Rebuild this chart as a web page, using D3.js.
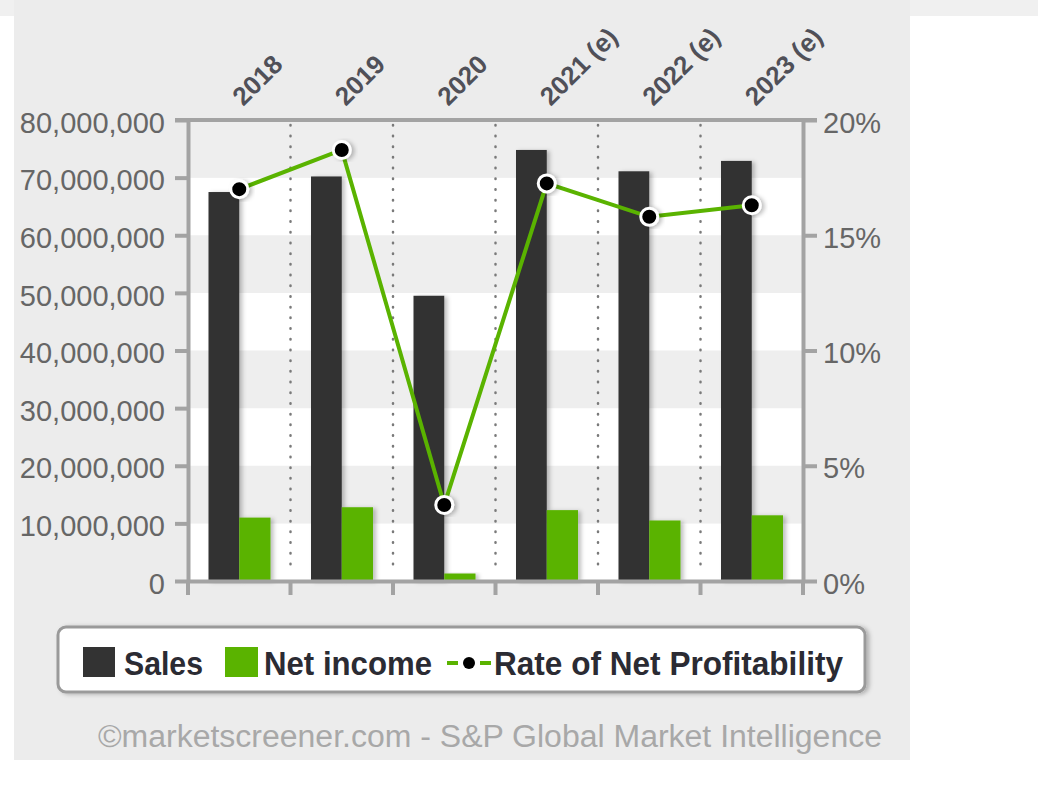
<!DOCTYPE html>
<html>
<head>
<meta charset="utf-8">
<script src="https://cdn.jsdelivr.net/npm/d3@7"></script>
<style>
  body { margin: 0; background: #fff; }
  svg { display: block; font-family: "Liberation Sans", Arial, sans-serif; }
</style>
</head>
<body>
<svg id="chart" width="1038" height="794"></svg>
<script>
// chart data
var years = ['2018', '2019', '2020', '2021 (e)', '2022 (e)', '2023 (e)']
var sales = [67.5e6, 70.2e6, 49.5e6, 74.8e6, 71.1e6, 72.9e6]
var netIncome = [11.0e6, 12.8e6, 1.3e6, 12.3e6, 10.5e6, 11.4e6]
var netMargin = [17.0, 18.7, 3.3, 17.25, 15.8, 16.3]
var salesTicks = [0, 10e6, 20e6, 30e6, 40e6, 50e6, 60e6, 70e6, 80e6]
var marginTicks = [0, 5, 10, 15, 20]
var legendLabels = ['Sales', 'Net income', 'Rate of Net Profitability']

var margin = { top: 120, right: 235, bottom: 213, left: 188 }
var svg = d3.select('#chart')
var svgWidth = +svg.attr('width')
var svgHeight = +svg.attr('height')
var width = svgWidth - margin.left - margin.right
var height = svgHeight - margin.top - margin.bottom

var axisColor = '#a3a3a3'
var salesColor = '#333333'
var incomeColor = '#5ab300'

// background panel
svg.append('rect').attr('x', 0).attr('y', 0).attr('width', svgWidth).attr('height', 16).attr('fill', '#f0f0f0')
svg.append('rect').attr('x', 14).attr('y', 0).attr('width', 896).attr('height', 760).attr('fill', '#ececec')

var defs = svg.append('defs')
var shadow = defs.append('filter').attr('id', 'shadow')
  .attr('x', '-20%').attr('y', '-20%').attr('width', '160%').attr('height', '140%')
shadow.append('feDropShadow')
  .attr('dx', 3).attr('dy', 1).attr('stdDeviation', 2)
  .attr('flood-color', '#000').attr('flood-opacity', 0.25)

var x = d3.scaleBand().domain(years).range([0, width]).padding(0)
var y = d3.scaleLinear().domain([0, 80e6]).range([height, 0])
var y2 = d3.scaleLinear().domain([0, 20]).range([height, 0])
var bw = x.bandwidth()

var g = svg.append('g').attr('transform', 'translate(' + margin.left + ',' + margin.top + ')')

// alternating bands
var bands = d3.pairs(salesTicks)
g.append('g')
  .selectAll('rect')
  .data(bands)
  .enter()
  .append('rect')
  .attr('x', 0)
  .attr('width', width)
  .attr('y', function (d) { return y(d[1]) })
  .attr('height', function (d) { return y(d[0]) - y(d[1]) })
  .attr('fill', function (d, i) { return i % 2 === 0 ? '#ffffff' : '#eeeeee' })

// dotted separators between years
g.append('g')
  .selectAll('line')
  .data(years.slice(1))
  .enter()
  .append('line')
  .attr('x1', function (d) { return x(d) })
  .attr('x2', function (d) { return x(d) })
  .attr('y1', 5)
  .attr('y2', height - 8)
  .attr('stroke', '#7a7a7a')
  .attr('stroke-width', 2.5)
  .attr('stroke-linecap', 'round')
  .attr('stroke-dasharray', '0.5,10.2')

// bars
g.append('g')
  .selectAll('rect')
  .data(years)
  .enter()
  .append('rect')
  .attr('x', function (d) { return x(d) + bw * 0.2 })
  .attr('y', function (d, i) { return y(sales[i]) })
  .attr('width', bw * 0.3)
  .attr('height', function (d, i) { return height - y(sales[i]) })
  .attr('fill', salesColor)
  .attr('filter', 'url(#shadow)')

g.append('g')
  .selectAll('rect')
  .data(years)
  .enter()
  .append('rect')
  .attr('x', function (d) { return x(d) + bw * 0.5 })
  .attr('y', function (d, i) { return y(netIncome[i]) })
  .attr('width', bw * 0.305)
  .attr('height', function (d, i) { return height - y(netIncome[i]) })
  .attr('fill', incomeColor)
  .attr('filter', 'url(#shadow)')

// axes
function styleAxis(sel) {
  sel.select('.domain').attr('stroke', axisColor).attr('stroke-width', 4)
  sel.selectAll('.tick line').attr('stroke', axisColor).attr('stroke-width', 4)
  sel.selectAll('.tick text')
    .attr('fill', '#666')
    .style('font-size', '29px')
    .attr('dy', '0.42em')
}

var leftAxis = g.append('g')
  .call(d3.axisLeft(y).tickValues(salesTicks).tickFormat(d3.format(',')).tickSize(13).tickSizeOuter(0).tickPadding(10))
styleAxis(leftAxis)

var rightAxis = g.append('g')
  .attr('transform', 'translate(' + width + ',0)')
  .call(d3.axisRight(y2).tickValues(marginTicks).tickFormat(function (d) { return d + '%' }).tickSize(14).tickSizeOuter(0).tickPadding(6))
styleAxis(rightAxis)

// top frame line
g.append('line')
  .attr('x1', -13).attr('x2', width + 14)
  .attr('y1', 0).attr('y2', 0)
  .attr('stroke', axisColor).attr('stroke-width', 4)

var bottomAxis = g.append('g')
  .attr('transform', 'translate(0,' + height + ')')
  .call(d3.axisBottom(x).tickValues([]).tickSizeOuter(0))
bottomAxis.select('.domain').attr('stroke', axisColor).attr('stroke-width', 4)
bottomAxis.selectAll('line.sep')
  .data(years.concat(['end']))
  .enter()
  .append('line')
  .attr('class', 'sep')
  .attr('x1', function (d, i) { return i * bw })
  .attr('x2', function (d, i) { return i * bw })
  .attr('y1', 0)
  .attr('y2', 14)
  .attr('stroke', axisColor)
  .attr('stroke-width', 4)

// year labels on top
g.append('g')
  .selectAll('text')
  .data(years)
  .enter()
  .append('text')
  .attr('transform', function (d) {
    return 'translate(' + (x(d) + bw / 2 + 4) + ',' + (-13) + ') rotate(-45)'
  })
  .attr('fill', '#505058')
  .style('font-size', '26px')
  .style('font-weight', 'bold')
  .text(function (d) { return d })

// profitability line
var line = d3.line()
  .x(function (d, i) { return x(years[i]) + bw / 2 })
  .y(function (d) { return y2(d) })
g.append('path')
  .datum(netMargin)
  .attr('d', line)
  .attr('fill', 'none')
  .attr('stroke', incomeColor)
  .attr('stroke-width', 4)

g.append('g')
  .selectAll('circle')
  .data(netMargin)
  .enter()
  .append('circle')
  .attr('cx', function (d, i) { return x(years[i]) + bw / 2 })
  .attr('cy', function (d) { return y2(d) })
  .attr('r', 8.5)
  .attr('fill', '#000')
  .attr('stroke', '#fff')
  .attr('stroke-width', 3)
  .attr('filter', 'url(#shadow)')

// legend
var legend = svg.append('g')
legend.append('rect')
  .attr('x', 58).attr('y', 627).attr('width', 807).attr('height', 65)
  .attr('rx', 8)
  .attr('fill', '#fff')
  .attr('stroke', '#9a9a9a')
  .attr('stroke-width', 3)
  .attr('filter', 'url(#shadow)')

legend.append('rect').attr('x', 83).attr('y', 647).attr('width', 32).attr('height', 30).attr('fill', salesColor)
legend.append('rect').attr('x', 225).attr('y', 647).attr('width', 33).attr('height', 30).attr('fill', incomeColor)
legend.append('line').attr('x1', 447).attr('x2', 458).attr('y1', 663).attr('y2', 663).attr('stroke', incomeColor).attr('stroke-width', 4)
legend.append('line').attr('x1', 480).attr('x2', 491).attr('y1', 663).attr('y2', 663).attr('stroke', incomeColor).attr('stroke-width', 4)
legend.append('circle').attr('cx', 469).attr('cy', 663).attr('r', 6).attr('fill', '#000')

var legendX = [124, 264, 494]
var legendW = [79, 168, 349]
legend.selectAll('text')
  .data(legendLabels)
  .enter()
  .append('text')
  .attr('x', function (d, i) { return legendX[i] })
  .attr('y', 675)
  .attr('textLength', function (d, i) { return legendW[i] })
  .attr('lengthAdjust', 'spacingAndGlyphs')
  .attr('fill', '#2b2b33')
  .style('font-size', '33px')
  .style('font-weight', 'bold')
  .text(function (d) { return d })

// source
svg.append('text')
  .attr('x', 98)
  .attr('y', 747)
  .attr('textLength', 784)
  .attr('lengthAdjust', 'spacingAndGlyphs')
  .attr('fill', '#a8a8a8')
  .style('font-size', '31px')
  .text('©marketscreener.com - S&P Global Market Intelligence')
</script>
</body>
</html>
